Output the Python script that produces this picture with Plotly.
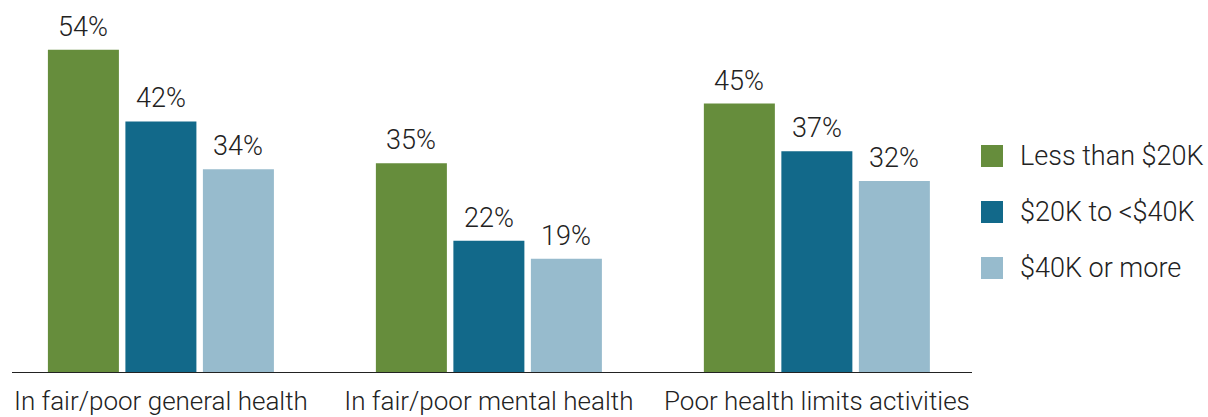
import plotly.graph_objects as go

categories = ["In fair/poor general health", "In fair/poor mental health", "Poor health limits activities"]
series_names = ["Less than $20K", "$20K to <$40K", "$40K or more"]
less_20k = [54, 35, 45]
from_20k_to_40k = [42, 22, 37]
over_40k = [34, 19, 32]
colors = ["#668d3c", "#12698a", "#97bbcd"]

series_values = [less_20k, from_20k_to_40k, over_40k]

FONT = "Roboto"
FSIZE = 27
TEXT_COLOR = "#222222"
step = 0.2363   # distance between bar centres within a group
width = 0.2165  # bar width in category units

fig = go.Figure()
x_pos = list(range(len(categories)))
annotations = []
for i, (name, vals, col) in enumerate(zip(series_names, series_values, colors)):
    shift = (i - 1) * step
    fig.add_trace(go.Bar(
        x=x_pos, y=vals, name=name, marker_color=col, marker_line_width=0,
        width=width, offset=shift - width / 2, showlegend=False,
    ))
    for xc, v in zip(x_pos, vals):
        annotations.append(dict(
            x=xc + shift, y=v, xref="x", yref="y", text=f"{v}%", showarrow=False,
            yanchor="bottom", xanchor="center", yshift=5,
            font=dict(family=FONT, size=FSIZE, color=TEXT_COLOR, weight=300),
        ))

# legend drawn as swatches + labels in the right margin
shapes = []
legend_y = [0.6034, 0.4469, 0.2905]
half_h = 11 / 358
for name, col, yc in zip(series_names, colors, legend_y):
    shapes.append(dict(type="rect", xref="paper", yref="paper",
                       x0=969 / 960, x1=991 / 960, y0=yc - half_h, y1=yc + half_h,
                       fillcolor=col, line_width=0))
    annotations.append(dict(x=1006 / 960, y=yc, xref="paper", yref="paper", text=name,
                            showarrow=False, xanchor="left", yanchor="middle",
                            font=dict(family=FONT, size=FSIZE, color=TEXT_COLOR, weight=300)))

fig.update_layout(
    barmode="overlay",
    width=1208, height=417,
    margin=dict(l=12, r=236, t=14, b=45, autoexpand=False),
    plot_bgcolor="white", paper_bgcolor="white",
    font=dict(family=FONT, size=FSIZE, color=TEXT_COLOR, weight=300),
    shapes=shapes, annotations=annotations,
    xaxis=dict(range=[-0.454, 2.473], tickvals=x_pos, ticktext=categories,
               showline=True, linecolor="#222222", linewidth=1.3, showgrid=False,
               zeroline=False, ticks="", ticklabelstandoff=6, automargin=False,
               tickfont=dict(family=FONT, size=26, color=TEXT_COLOR, weight=300)),
    yaxis=dict(range=[0, 60], visible=False, showgrid=False, zeroline=False, automargin=False),
)

fig.write_html("out.html")
